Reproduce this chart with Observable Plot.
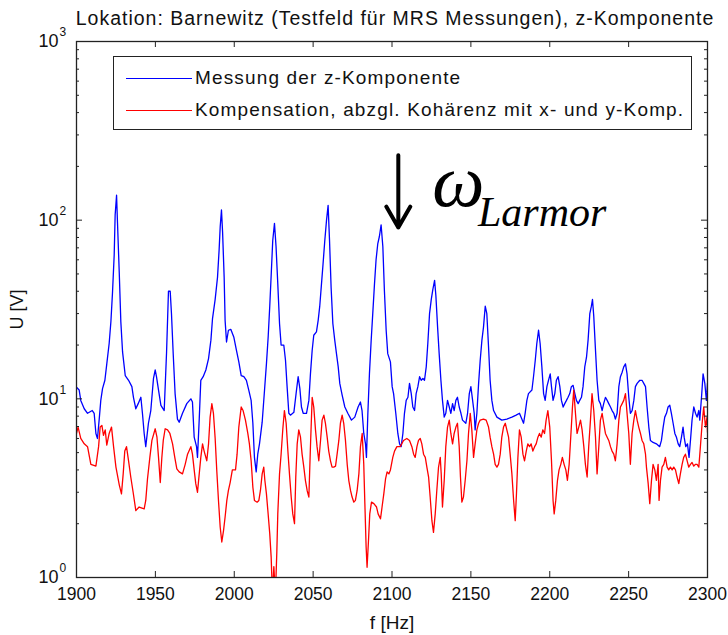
<!DOCTYPE html>
<html>
<head>
<meta charset="utf-8">
<script src="https://cdn.jsdelivr.net/npm/d3@7"></script>
<script src="https://cdn.jsdelivr.net/npm/@observablehq/plot@0.6"></script>
<style>
  html, body { margin: 0; padding: 0; background: #fff; }
  #wrap { position: relative; width: 728px; height: 635px; font-family: "Liberation Sans", Arial, sans-serif; }
  #title { position: absolute; left: 0; width: 790px; top: 7px; text-align: center; font-size: 19.5px; letter-spacing: 1px; line-height: 22px; color: #111; white-space: nowrap; }
  #legend { position: absolute; left: 113px; top: 56px; width: 577px; height: 72px; border: 1px solid #222; background: #fff; font-size: 19px; letter-spacing: 1.15px; color: #111; }
  .row { position: absolute; left: 12px; height: 22px; display: flex; align-items: center; white-space: nowrap; }
  .sw { width: 66px; height: 0; border-top: 1.3px solid; margin-right: 3px; }
</style>
</head>
<body>
<div id="wrap">
  <div id="chart"></div>
  <div id="title"></div>
  <div id="legend"></div>
</div>
<script>
// ---- data ----
const titleText = "Lokation: Barnewitz (Testfeld für MRS Messungen), z-Komponente";
const seriesNames = ["Messung der z-Komponente", "Kompensation, abzgl. Kohärenz mit x- und y-Komp."];
const seriesColors = ["#0000ff", "#ff0000"];
const xTicks = [1900, 1950, 2000, 2050, 2100, 2150, 2200, 2250, 2300];
const yMajor = [1, 10, 100, 1000];
const yMinor = [2,3,4,5,6,7,8,9,20,30,40,50,60,70,80,90,200,300,400,500,600,700,800,900];

const blueF = [1900,1901.7,1902.7,1904.9,1907,1910,1911.2,1912.3,1913.3,1914.4,1915.4,1916.5,1918,1919.2,1920.7,1921.8,1922.8,1923.9,1924.5,1925.4,1926,1927.1,1928.1,1929.2,1930.9,1933,1935.1,1936.1,1937.6,1939.1,1940.8,1941.8,1942.9,1943.9,1945.6,1947.1,1948.8,1949.9,1950.7,1952,1953.5,1955.6,1957.1,1958.3,1959.4,1960.2,1961.3,1962.5,1964,1965.1,1967.2,1969.9,1972.5,1973.5,1974.6,1976.1,1976.7,1977.8,1978.8,1980.3,1982,1983.7,1985.2,1986.2,1987.9,1989.4,1990.4,1991.1,1991.9,1992.6,1993.6,1994.2,1995.1,1996.3,1997.8,1999.7,2001.4,2002.9,2004.4,2006.1,2007.7,2009.2,2010.7,2011.8,2012.8,2013.9,2014.9,2016,2017.7,2019.2,2020.4,2021.5,2022.5,2023.4,2024.4,2025.5,2026.5,2027.6,2028.7,2029.7,2031.4,2032.5,2033.5,2034.6,2035.6,2037.8,2039.2,2040.5,2041.6,2042.6,2043.7,2045.8,2047.3,2048.3,2049.4,2050.4,2052.1,2053.2,2054.2,2055.3,2056.3,2057.4,2058.5,2059.5,2060.4,2061.4,2062.5,2063.7,2064.8,2065.9,2066.9,2068.4,2070.1,2072,2074.3,2076.4,2078.5,2080,2081,2082.1,2083.2,2083.8,2084.7,2085.7,2086.8,2087.8,2088.9,2089.9,2091,2092,2093.1,2094.2,2095.2,2096.3,2097.3,2099,2100.1,2101,2102.4,2103.7,2104.8,2105.8,2106.9,2107.9,2109,2110.1,2111.1,2112.2,2113.2,2114.3,2115.3,2116.4,2117.5,2118.5,2119.6,2120.6,2121.7,2122.7,2123.8,2124.9,2125.9,2127,2127.8,2128.9,2129.9,2131,2132,2133.1,2134.1,2135.2,2136.3,2137.3,2138.4,2139.4,2140.5,2141.5,2142.6,2143.7,2144.7,2146.8,2147.9,2149,2150,2151.1,2152.1,2152.7,2153.8,2154.9,2155.9,2157,2158,2159.1,2160.1,2161.2,2162.2,2163.3,2164.4,2166.5,2169.6,2172.8,2176,2178.7,2180.8,2182.3,2183.4,2184.4,2185.5,2186.5,2188.7,2189.7,2190.8,2191.8,2192.9,2193.9,2195,2196.1,2197.1,2198.2,2199.2,2200.3,2201.1,2202.1,2203.2,2204.2,2205.3,2206.4,2207.4,2208.5,2209.5,2210.6,2211.6,2212.7,2213.7,2214.8,2215.9,2216.9,2218,2219,2220.1,2221.1,2222.2,2223.3,2224.3,2225.4,2226.4,2227.1,2227.9,2229,2230,2231.1,2232.1,2233.2,2234.2,2235.3,2236.4,2237.4,2238.5,2239.5,2240.6,2241.6,2242.7,2243.8,2244.8,2245.9,2246.9,2248,2249,2250.1,2251.1,2252.2,2253.3,2254.3,2255.4,2257.1,2258.5,2259.6,2260.7,2261.7,2262.8,2263.8,2265.5,2267.6,2269.7,2270.8,2271.9,2272.9,2274,2275,2276.1,2277.1,2278.2,2279.3,2280.3,2281.4,2282.4,2283.5,2284.5,2285.2,2286.2,2287.3,2288.3,2289.2,2290.2,2291.3,2292.4,2293.4,2294.5,2295.1,2296.2,2297.2,2298.3,2299.3,2300];
const blueU = [11.6,11.2,9.8,8.8,8.3,8.6,8.3,6.4,6.0,7.7,9.8,11.4,12.7,15.7,20.4,27,39,64,107,138,96,51,27,18.3,13.5,12.7,11.7,10.2,8.8,9.4,10.2,8.3,6.4,5.4,7.3,8.6,13.0,14.5,13.3,11.2,9.2,8.6,18.3,40,40,30,17.9,10.7,7.7,7.4,8.3,9.4,10,9.6,6.1,5.4,4.7,7.7,12.7,13.3,14.5,16.8,21.3,28,36,48,68,92,114,86,48,27.5,20.8,24.2,24.5,22.2,18.7,16.1,13.5,13.3,12.7,11.2,9.8,7.3,4.7,3.9,4.9,5.6,7.4,11.2,15.7,22.2,33,49,77,96,71,44,26.4,20,20,16.4,11.7,8.3,8.1,8.4,10.7,13.3,11.4,9.0,8.3,8.3,9.8,13.8,18.7,22.7,23.7,27.5,33,44,57,77,100,121,77,42,26.4,21.3,17.9,15.1,12.2,10.5,9.0,8.3,7.6,7.9,9.0,9.6,8.6,6.4,5.6,4.7,8.3,13.8,21.3,30,44,60,74,81,94,71,40,24.2,17.9,16.1,11.7,10.7,8.3,6.4,5.6,5.4,6.4,8.3,9.8,10.2,12.2,10.7,9.0,8.6,10.7,11.7,13.3,12.7,13.0,12.7,15.1,20.4,30,36,41,46,38,25.2,17.9,12.7,9.8,7.9,8.3,9.8,9.0,8.3,9.4,8.6,9.8,10.2,9.0,8.3,7.6,7.3,8.3,10.7,11.7,9.8,8.3,6.7,8.3,12.2,16.4,21.3,25.2,33,30,19.5,12.7,9.8,8.6,7.9,7.6,7.7,7.9,8.1,8.3,7.7,7.3,8.3,9.8,10.7,11.2,13.3,16.4,20.4,24.2,20.4,15.1,10.7,9.8,11.7,12.7,13.8,11.7,9.8,10.7,12.7,13.3,11.7,9.8,9.0,9.4,9.8,10.2,10.7,11.7,11.9,10.7,9.8,9.4,9.8,10.2,11.7,15.1,17.1,21.3,30,33,36,29,18.7,12.7,9.8,9.4,8.6,9.4,10.2,9.8,9.4,9.0,8.6,8.3,7.7,8.3,11.7,13.3,14.1,15.1,15.7,13.8,10.2,8.3,8.6,9.8,11.7,12.2,12.7,12.7,12.2,11.7,9.0,6.95,5.85,5.7,5.6,5.4,5.85,6.95,7.9,8.3,9.0,9.2,8.3,7.3,6.4,6.1,5.6,5.4,6.1,6.95,6.1,5.4,5.6,4.7,5.85,7.6,9.0,8.3,7.9,8.6,7.6,10.2,13.8,12.2,9.8,12.2];

const redF = [1900,1901,1902.7,1904.9,1907,1909.1,1912.3,1914,1915,1916.1,1917.1,1918.2,1919.2,1920.7,1922.2,1923.5,1925,1927.1,1928.5,1929.6,1930.6,1931.7,1933,1934.4,1935.9,1937.6,1939.7,1942.9,1943.9,1945,1946.5,1947.8,1949.9,1951,1952,1953.1,1954.1,1955,1956.2,1957.7,1959.2,1960.9,1962.3,1963.6,1965.1,1967.2,1968.9,1970.4,1972.5,1973.5,1974.6,1975.6,1976.7,1977.8,1978.8,1979.9,1980.9,1982.6,1983.7,1984.7,1985.8,1986.8,1987.9,1988.9,1990,1991.1,1992.1,1993.2,1994.2,1995.3,1996.3,1997.4,1998.8,1999.9,2000.8,2001.8,2002.9,2004.4,2005.6,2007.1,2008.6,2009.6,2010.7,2011.8,2012.8,2014.5,2015.6,2016.6,2017.7,2018.7,2019.4,2020.4,2021.3,2022.5,2023.4,2024.2,2025.1,2026.1,2027,2027.6,2028.7,2029.7,2030.8,2031.8,2032.9,2034,2035,2036.1,2037.1,2038.2,2039,2039.9,2040.9,2042,2043,2044.1,2045.1,2046.2,2047.3,2048.3,2049.4,2050.4,2051.5,2052.5,2053.6,2054.7,2055.7,2056.8,2057.8,2058.9,2059.9,2061,2062,2063.1,2064.2,2065.2,2066.3,2067.3,2068.4,2069.4,2070.5,2071.6,2072.6,2073.7,2074.7,2075.8,2076.8,2077.9,2079,2080,2081.1,2082.1,2082.8,2083.6,2084.2,2085.1,2085.9,2087,2088.5,2090.2,2091.2,2092.7,2093.7,2094.8,2095.9,2096.9,2098,2099,2100.5,2101.6,2103.1,2105.2,2107.3,2109.4,2111.1,2112.6,2113.7,2114.7,2115.8,2116.8,2117.9,2118.9,2120,2121.1,2122.1,2123.2,2124.2,2125.3,2126.3,2127.4,2128.4,2129.5,2130.6,2131.2,2132,2133.1,2134.1,2135.2,2136.3,2137.3,2138.4,2139.4,2140.5,2141.5,2142.6,2143.4,2144.3,2145.3,2146.4,2147.5,2148.5,2149.6,2150.6,2151.7,2152.7,2153.8,2154.9,2155.9,2158,2159.7,2161.2,2162.2,2163.3,2164.4,2165.4,2166.5,2167.5,2168.6,2169.6,2170.7,2171.8,2172.8,2173.9,2174.9,2176,2177.1,2178.1,2178.9,2179.8,2180.8,2181.9,2183,2184,2185.1,2186.1,2187.2,2188.2,2189.3,2190.4,2191.4,2192.5,2193.5,2194.6,2195.6,2196.7,2197.7,2198.8,2200,2201.1,2202.1,2202.8,2203.8,2204.9,2205.9,2207,2208,2209.1,2210.2,2211.2,2212.3,2213.3,2214.4,2215.2,2216.3,2217.3,2218.4,2219.5,2220.5,2221.6,2222.6,2223.7,2224.7,2225.8,2226.8,2227.9,2229,2230,2231.1,2232.1,2233.2,2234.2,2235.3,2236.4,2237.4,2238.5,2239.5,2240.6,2241.6,2242.7,2243.8,2244.8,2245.9,2246.9,2248,2249,2250.1,2251.1,2252.2,2253.3,2254.3,2255.4,2256.4,2257.5,2258.5,2259.6,2260.7,2261.3,2262.4,2263.4,2264.5,2265.5,2266.6,2267.6,2268.7,2269.3,2270.2,2271.2,2272.3,2273.3,2274.4,2275.4,2276.5,2277.6,2278.6,2279.7,2280.7,2281.8,2282.8,2283.9,2284.9,2286,2287.1,2288.1,2289.2,2290.2,2291.3,2292.4,2293.4,2294.5,2295.5,2296.6,2297.6,2298.7,2299.7,2300];
const redU = [6.4,6.95,6.0,5.6,5.4,4.3,4.2,5.4,6.95,7.1,6.25,6.7,5.5,6.4,6.95,5.4,4.15,3.3,2.94,3.8,5.1,5.4,4.5,3.65,3.0,2.37,2.48,2.42,2.7,3.56,4.7,5.85,6.8,6.1,4.7,3.4,4.7,5.85,6.8,6.7,6.4,5.6,4.7,4.06,3.9,3.8,4.3,4.9,5.4,4.9,4.0,3.35,3.0,3.8,4.7,5.6,5.1,4.5,5.6,7.9,9.4,8.3,6.0,4.0,2.7,1.91,1.58,1.83,2.18,2.7,3.07,3.4,4.0,4.0,4.0,4.9,6.95,9.0,8.6,7.6,6.4,5.6,4.5,3.2,2.7,2.64,2.7,3.07,3.8,4.15,3.5,2.94,2.37,1.76,1.3,0.8,1.15,0.8,1.4,2.27,3.8,4.9,6.8,8.6,7.3,5.1,3.8,2.82,2.27,2.0,3.65,5.6,6.7,6.1,4.9,4.15,3.5,3.07,2.82,5.4,10.2,9.0,6.7,5.4,4.5,5.85,7.6,8.1,7.3,6.1,5.1,4.5,4.15,4.15,4.2,4.9,5.85,7.3,8.1,7.3,5.85,4.3,3.5,3.07,2.82,2.64,2.7,3.07,3.8,5.4,6.4,4.3,2.59,1.48,1.14,1.61,2.27,2.64,2.59,2.48,2.27,2.13,2.48,2.94,3.56,3.9,3.8,4.0,4.7,5.1,5.4,5.4,5.85,6.0,5.85,5.4,4.9,4.7,5.4,5.85,6.0,5.6,4.9,4.7,4.15,3.65,2.82,2.08,1.79,2.27,3.07,4.15,4.7,3.8,2.48,3.5,5.4,6.95,7.6,6.4,5.6,6.4,6.95,7.3,5.4,3.65,2.64,2.82,3.5,4.5,6.4,8.3,6.7,4.7,5.6,6.7,7.3,7.6,7.7,7.6,6.95,6.1,5.4,4.9,4.3,4.15,4.3,4.9,6.1,6.95,7.3,6.7,6.1,4.9,3.8,2.7,2.08,2.94,4.7,6.7,6.1,4.9,4.5,5.1,5.6,5.4,5.6,5.1,5.4,5.6,6.1,6.4,6.1,6.7,6.4,7.6,8.6,6.95,4.5,2.7,2.27,2.7,3.5,4.0,4.3,4.7,4.3,4.0,3.5,4.3,6.1,9.0,11.2,8.3,6.4,6.95,7.6,6.7,5.4,4.3,3.65,5.4,7.6,10.7,8.6,6.1,3.8,5.4,7.6,8.3,7.3,6.4,6.1,5.85,5.4,5.1,4.9,4.5,5.6,7.6,9.0,9.4,9.8,10.7,8.3,6.4,4.3,6.4,7.6,8.6,7.6,6.95,6.4,5.85,5.6,4.9,4.15,3.35,2.59,3.5,4.3,4.0,3.5,4.3,2.7,3.5,4.15,4.3,4.7,4.15,4.0,4.15,4.0,4.15,4.0,3.65,3.35,3.8,4.3,4.7,4.9,4.5,4.15,4.3,4.4,4.2,4.3,4.3,4.15,5.4,7.3,9.0,6.95,7.9,6.5];

// annotation (Larmor frequency marker)
const arrowF = [2104];
const arrowFrom = [231];
const arrowTo = [91];
const omegaF = [2125.5];
const omegaU = [163];
const larmorF = [2154.5];
const larmorU = [110];

// ---- build ----
const blue = blueF.map((f, i) => ({f, u: blueU[i]}));
const red = redF.map((f, i) => ({f, u: redU[i]}));
const arrowData = arrowF.map((f, i) => ({f, from: arrowFrom[i], to: arrowTo[i]}));

const chart = Plot.plot({
  width: 728,
  height: 635,
  marginLeft: 76,
  marginRight: 21,
  marginTop: 41,
  marginBottom: 58,
  style: {fontFamily: "'Liberation Sans', Arial, sans-serif", fontSize: "19px", color: "#111", background: "transparent", overflow: "visible"},
  x: {domain: [1900, 2300]},
  y: {type: "log", domain: [1, 1000]},
  marks: [
    Plot.line(blue, {x: "f", y: "u", stroke: seriesColors[0], strokeWidth: 1.3, clip: true}),
    Plot.line(red, {x: "f", y: "u", stroke: seriesColors[1], strokeWidth: 1.3, clip: true}),
    // inward ticks (MATLAB style)
    Plot.ruleX(xTicks, {x: d => d, insetTop: 530, stroke: "#222"}),
    Plot.ruleX(xTicks, {x: d => d, insetBottom: 530, stroke: "#222"}),
    Plot.ruleY(yMajor, {y: d => d, insetRight: 625, stroke: "#222"}),
    Plot.ruleY(yMajor, {y: d => d, insetLeft: 625, stroke: "#222"}),
    Plot.ruleY(yMinor, {y: d => d, insetRight: 628, stroke: "#222"}),
    Plot.ruleY(yMinor, {y: d => d, insetLeft: 628, stroke: "#222"}),
    Plot.frame({stroke: "#222", strokeWidth: 1.3}),
    // tick labels
    Plot.axisX({ticks: xTicks, tickSize: 0, tickPadding: 10, fontSize: 17.5, tickFormat: d => String(d),
      label: null}),
    Plot.axisX({ticks: [], tickSize: 0, label: "f [Hz]", labelAnchor: "center", labelOffset: 51, labelArrow: "none", fontSize: 19}),
    Plot.axisY({ticks: yMajor, tickSize: 0, tickPadding: 18, fontSize: 18, tickFormat: () => "10",
      label: "U [V]", labelAnchor: "center", labelOffset: 66, labelArrow: "none"}),
    Plot.axisY({ticks: yMajor, tickSize: 0, tickPadding: 17, textAnchor: "start", fontSize: 12, dy: -9,
      tickFormat: d => String(Math.round(Math.log10(d))), label: null}),
    // Larmor annotation
    Plot.arrow(arrowData, {x: "f", y1: "from", y2: "to", stroke: "#000", strokeWidth: 4, headLength: 22, headAngle: 60}),
    Plot.text(omegaF, {x: d => d, y: omegaU, text: () => "ω", textAnchor: "start", fontSize: 74, fontStyle: "italic", fontFamily: "'Liberation Serif', 'Times New Roman', serif", fill: "#000"}),
    Plot.text(larmorF, {x: d => d, y: larmorU, text: () => "Larmor", textAnchor: "start", fontSize: 42, fontStyle: "italic", fontFamily: "'Liberation Serif', 'Times New Roman', serif", fill: "#000"})
  ]
});
document.getElementById("chart").appendChild(chart);

document.getElementById("title").textContent = titleText;
const legend = document.getElementById("legend");
seriesNames.forEach((name, i) => {
  const row = document.createElement("div");
  row.className = "row";
  row.style.top = (10 + i * 32) + "px";
  const sw = document.createElement("span");
  sw.className = "sw";
  sw.style.borderTopColor = seriesColors[i];
  const t = document.createElement("span");
  t.textContent = name;
  row.appendChild(sw);
  row.appendChild(t);
  legend.appendChild(row);
});
</script>
</body>
</html>
